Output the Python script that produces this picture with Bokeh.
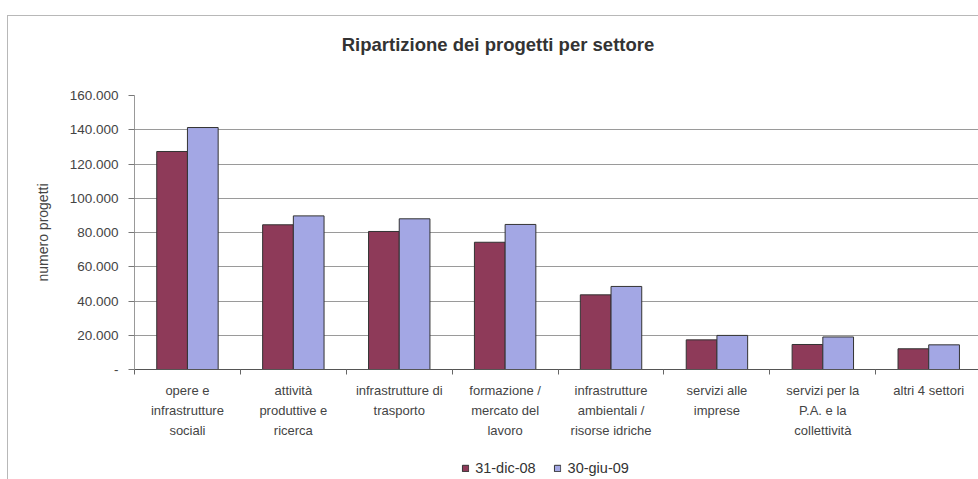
from bokeh.plotting import figure
from bokeh.layouts import column
from bokeh.models import (Range1d, FixedTicker, Legend, LegendItem, ColumnDataSource, Div)
from bokeh.transform import dodge
from bokeh.embed import file_html
from bokeh.resources import INLINE

title_text = "Ripartizione dei progetti per settore"
categories = [
    "opere e\ninfrastrutture\nsociali",
    "attività\nproduttive e\nricerca",
    "infrastrutture di\ntrasporto",
    "formazione /\nmercato del\nlavoro",
    "infrastrutture\nambientali /\nrisorse idriche",
    "servizi alle\nimprese",
    "servizi per la\nP.A. e la\ncollettività",
    "altri 4 settori",
]
dic08 = [127300, 84500, 80600, 74300, 43600, 17300, 14600, 12100]
giu09 = [141300, 89700, 88000, 84700, 48500, 19900, 19000, 14400]
series_names = ["31-dic-08", "30-giu-09"]
y_ticks = [0, 20000, 40000, 60000, 80000, 100000, 120000, 140000, 160000]
y_tick_labels = ["-", "20.000", "40.000", "60.000", "80.000", "100.000", "120.000", "140.000", "160.000"]

centers = [i + 0.5 for i in range(len(categories))]
src = ColumnDataSource(dict(x=centers, a=dic08, b=giu09))

FONT = "Liberation Sans"
DARK = "#8E3A59"
LIGHT = "#A3A7E4"
EDGE = "#333333"

title_div = Div(text=title_text, width=970, height=60, margin=0,
                styles={"font-family": FONT, "font-size": "18.5px", "font-weight": "bold",
                        "color": "#333333", "text-align": "center", "line-height": "20px",
                        "padding-top": "19px", "padding-left": "10px",
                        "box-sizing": "border-box"})

p = figure(width=970, height=380, output_backend="svg", toolbar_location=None,
           x_range=Range1d(0, 7.97), y_range=Range1d(0, 160000),
           min_border_left=126, min_border_right=0, min_border_top=19, min_border_bottom=87,
           background_fill_color="white", border_fill_color="white")
p.outline_line_color = None

bw = 0.29
r1 = p.vbar(x=dodge("x", -bw / 2, range=p.x_range), top="a", width=bw, source=src,
            fill_color=DARK, line_color=EDGE, line_width=1)
r2 = p.vbar(x=dodge("x", bw / 2, range=p.x_range), top="b", width=bw, source=src,
            fill_color=LIGHT, line_color=EDGE, line_width=1)

# x axis
xa = p.xaxis[0]
xa.ticker = FixedTicker(ticks=centers, minor_ticks=list(range(len(categories) + 1)))
xa.major_label_overrides = {c: lab for c, lab in zip(centers, categories)}
xa.major_tick_out = 0
xa.major_tick_in = 0
xa.minor_tick_out = 5
xa.minor_tick_in = 0
xa.minor_tick_line_color = "#666666"
xa.axis_line_color = "#555555"
xa.major_label_text_font = FONT
xa.major_label_text_font_size = "13px"
xa.major_label_text_color = "#444444"
xa.major_label_text_line_height = 1.35
xa.major_label_standoff = 8

# y axis
ya = p.yaxis[0]
ya.ticker = FixedTicker(ticks=y_ticks, minor_ticks=[])
ya.major_label_overrides = {v: s for v, s in zip(y_ticks, y_tick_labels)}
ya.major_tick_out = 6
ya.major_tick_in = 0
ya.major_tick_line_color = "#777777"
ya.axis_line_color = "#999999"
ya.major_label_text_font = FONT
ya.major_label_text_font_size = "13.5px"
ya.major_label_text_color = "#444444"
ya.major_label_standoff = 10
ya.axis_label = "numero progetti"
ya.axis_label_text_font = FONT
ya.axis_label_text_font_size = "14px"
ya.axis_label_text_font_style = "normal"
ya.axis_label_text_color = "#444444"
ya.axis_label_standoff = 16

p.xgrid.grid_line_color = None
p.ygrid.ticker = FixedTicker(ticks=y_ticks)
p.ygrid.grid_line_color = "#9a9a9a"
p.ygrid.grid_line_width = 1

# legend strip (legend centred in a narrow strip positioned under the chart)
pl = figure(width=300, height=23, output_backend="svg", toolbar_location=None,
            x_range=Range1d(0, 1), y_range=Range1d(0, 1),
            min_border_left=0, min_border_right=0, min_border_top=0, min_border_bottom=0,
            background_fill_color="white", border_fill_color="white",
            margin=(0, 0, 0, 324))
pl.outline_line_color = None
pl.axis.visible = False
pl.grid.visible = False
d1 = pl.vbar(x=[5], top=[1], width=0.1, fill_color=DARK, line_color=EDGE)
d2 = pl.vbar(x=[5], top=[1], width=0.1, fill_color=LIGHT, line_color=EDGE)
legend = Legend(items=[LegendItem(label=series_names[0], renderers=[d1], index=0),
                       LegendItem(label=series_names[1], renderers=[d2], index=0)],
                orientation="horizontal", location="center",
                label_text_font=FONT, label_text_font_size="14.5px", label_text_color="#333333",
                glyph_width=8, glyph_height=8, spacing=18, label_standoff=6,
                label_height=14,
                border_line_color=None, background_fill_alpha=0, padding=3, margin=0)
pl.add_layout(legend, "center")

layout = column(title_div, p, pl, margin=(15, 0, 0, 7), spacing=0,
                styles={"border-top": "1px solid #b8b8b8", "border-left": "1px solid #b8b8b8"})

open("out.html", "w").write(file_html(layout, INLINE))
